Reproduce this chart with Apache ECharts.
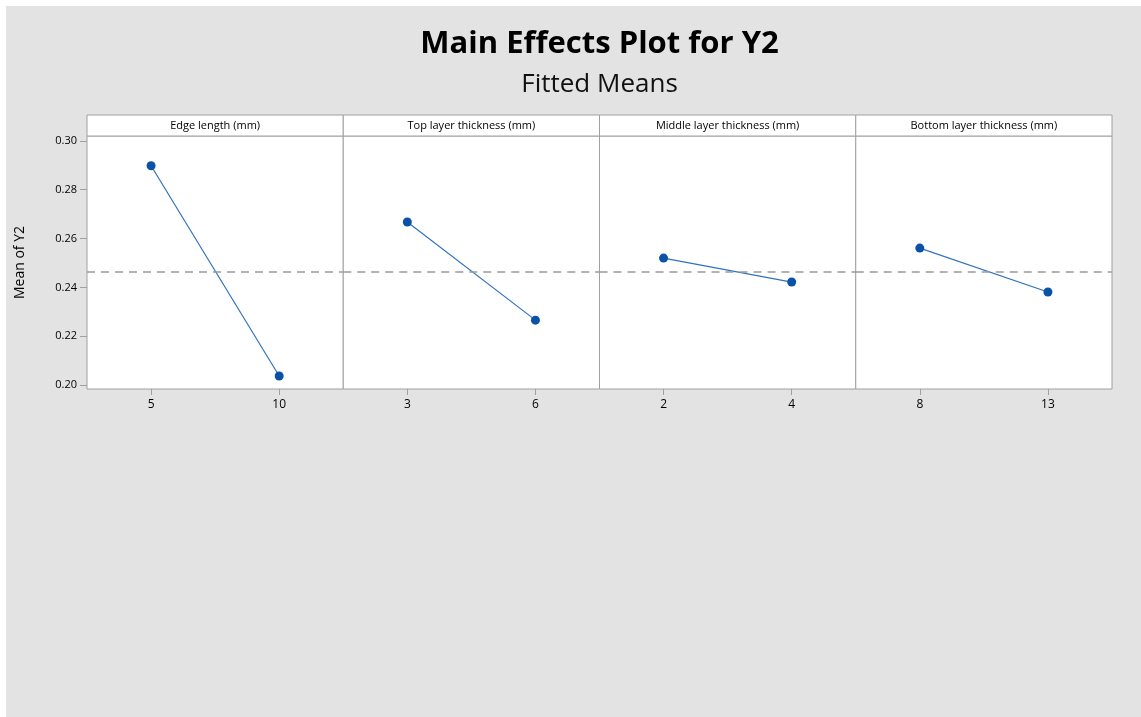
<!DOCTYPE html>
<html>
<head>
<meta charset="utf-8">
<script src="https://cdn.jsdelivr.net/npm/echarts@6/dist/echarts.min.js"></script>
<style>
  html, body { margin: 0; padding: 0; background: #ffffff; }
  #main { position: absolute; left: 6px; top: 6px; width: 1135px; height: 711px; background: #e3e3e3; }
</style>
</head>
<body>
<div id="main"></div>
<script>
// data
const factors = ['Edge length (mm)', 'Top layer thickness (mm)', 'Middle layer thickness (mm)', 'Bottom layer thickness (mm)'];
const levels = [['5', '10'], ['3', '6'], ['2', '4'], ['8', '13']];
const means = [[0.2898, 0.2037], [0.2668, 0.2266], [0.2520, 0.2422], [0.2561, 0.2381]];
const grandMean = 0.2465;
const yTicks = [0.20, 0.22, 0.24, 0.26, 0.28, 0.30];

// layout (px inside the chart div)
const plotLeft = 81, plotRight = 1106, plotTop = 130, plotBottom = 383, stripTop = 109;
const panelW = (plotRight - plotLeft) / 4;
const border = '#a0a0a0';
const font = '"Open Sans", "Noto Sans", sans-serif';

var chart = echarts.init(document.getElementById('main'));

var grids = [], xAxes = [], yAxes = [], series = [], graphics = [];
factors.forEach(function (f, i) {
  grids.push({
    show: true,
    left: plotLeft + i * panelW,
    top: plotTop,
    width: panelW,
    height: plotBottom - plotTop,
    backgroundColor: '#ffffff',
    borderColor: border,
    borderWidth: 1
  });
  xAxes.push({
    type: 'category',
    gridIndex: i,
    data: levels[i],
    boundaryGap: true,
    axisLine: { show: false },
    axisTick: { show: true, alignWithLabel: true, length: 6, lineStyle: { color: border } },
    axisLabel: { color: '#000', fontSize: 12, fontFamily: font, margin: 10 },
    splitLine: { show: false }
  });
  yAxes.push({
    type: 'value',
    gridIndex: i,
    min: 0.1984,
    max: 0.302,
    name: i === 0 ? 'Mean of Y2' : '',
    nameLocation: 'middle',
    nameGap: 60,
    nameTextStyle: { color: '#000', fontSize: 14, fontFamily: font },
    axisLine: { show: false },
    axisTick: { show: i === 0, length: 7, lineStyle: { color: border }, customValues: yTicks },
    axisLabel: {
      show: i === 0, color: '#000', fontSize: 11, fontFamily: font, margin: 10,
      customValues: yTicks,
      formatter: function (v) { return v.toFixed(2); }
    },
    splitLine: { show: false }
  });
  series.push({
    type: 'line',
    xAxisIndex: i,
    yAxisIndex: i,
    data: means[i],
    symbol: 'circle',
    symbolSize: 9,
    itemStyle: { color: '#0a52a8' },
    lineStyle: { color: '#2f72c0', width: 1.2 },
    markLine: {
      silent: true,
      symbol: 'none',
      precision: 4,
      label: { show: false },
      lineStyle: { color: '#9a9a9a', type: [8, 6], width: 1.5 },
      data: [{ yAxis: grandMean }]
    },
    z: 3
  });
  // facet strip
  graphics.push({
    type: 'rect',
    shape: { x: plotLeft + i * panelW, y: stripTop, width: panelW, height: plotTop - stripTop },
    style: { fill: '#ffffff', stroke: border, lineWidth: 1 }
  });
  graphics.push({
    type: 'text',
    x: plotLeft + (i + 0.5) * panelW,
    y: (stripTop + plotTop) / 2,
    style: { text: f, fill: '#000', font: '11px ' + font, textAlign: 'center', textVerticalAlign: 'middle' }
  });
});

chart.setOption({
  animation: false,
  title: [
    {
      text: 'Main Effects Plot for Y2',
      left: (plotLeft + plotRight) / 2, top: 23, textAlign: 'center', padding: 0,
      textStyle: { fontSize: 31, fontWeight: 'bold', color: '#000', fontFamily: font }
    },
    {
      text: 'Fitted Means',
      left: (plotLeft + plotRight) / 2, top: 66, textAlign: 'center', padding: 0,
      textStyle: { fontSize: 26, fontWeight: 'normal', color: '#111', fontFamily: font }
    }
  ],
  grid: grids,
  xAxis: xAxes,
  yAxis: yAxes,
  series: series,
  graphic: graphics
});
</script>
</body>
</html>
